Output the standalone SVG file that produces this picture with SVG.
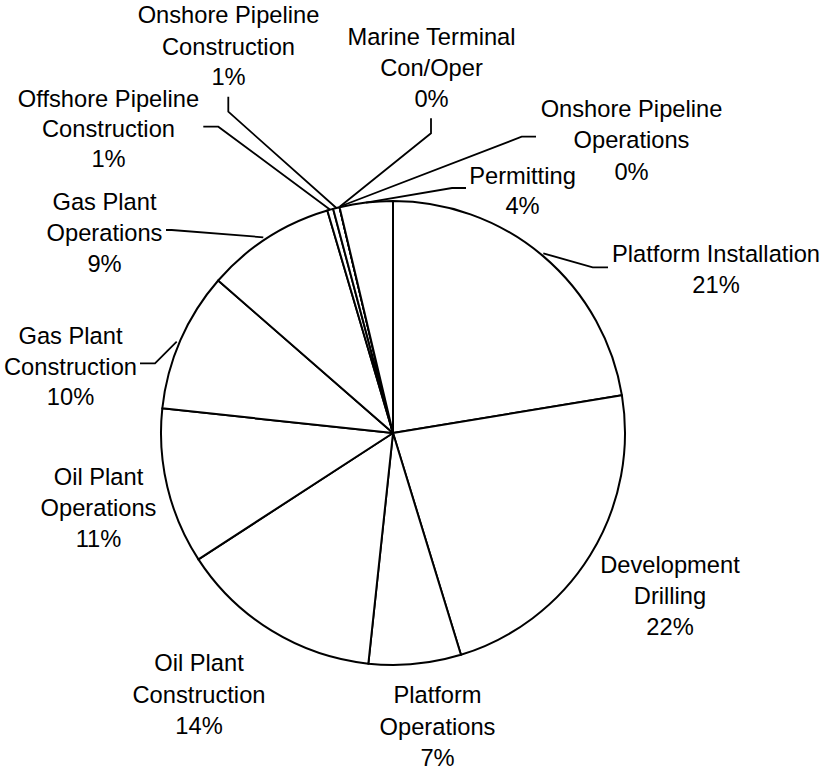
<svg xmlns="http://www.w3.org/2000/svg" width="824" height="773" viewBox="0 0 824 773">
<style>
.s{fill:#fff;stroke:#000;stroke-width:2;stroke-linejoin:round}
.l{fill:none;stroke:#000;stroke-width:1.8}
text{font-family:"Liberation Sans",Arial,sans-serif;font-size:23.7px;fill:#000;text-anchor:middle}
</style>
<rect width="824" height="773" fill="#fff"/>
<g id="platform-installation">
<path class="s" d="M393 433 L393 201 A232 232 0 0 1 621.93 395.34 Z"/>
<text x="716" y="262">Platform Installation</text>
<text x="716" y="293">21%</text>
</g>
<g id="development-drilling">
<path class="s" d="M393 433 L621.93 395.34 A232 232 0 0 1 460.94 654.83 Z"/>
<text x="670" y="573">Development</text>
<text x="670" y="604">Drilling</text>
<text x="670" y="635">22%</text>
</g>
<g id="platform-operations">
<path class="s" d="M393 433 L460.94 654.83 A232 232 0 0 1 368.35 663.69 Z"/>
<text x="437.5" y="703">Platform</text>
<text x="437.5" y="735">Operations</text>
<text x="437.5" y="766">7%</text>
</g>
<g id="oil-plant-construction">
<path class="s" d="M393 433 L368.35 663.69 A232 232 0 0 1 198.43 559.36 Z"/>
<text x="199" y="671">Oil Plant</text>
<text x="199" y="702.5">Construction</text>
<text x="199" y="733.5">14%</text>
</g>
<g id="oil-plant-operations">
<path class="s" d="M393 433 L198.43 559.36 A232 232 0 0 1 162.31 408.35 Z"/>
<text x="98.5" y="485">Oil Plant</text>
<text x="98.5" y="516">Operations</text>
<text x="98.5" y="547">11%</text>
</g>
<g id="gas-plant-construction">
<path class="s" d="M393 433 L162.31 408.35 A232 232 0 0 1 218.17 280.49 Z"/>
<text x="70.5" y="343.5">Gas Plant</text>
<text x="70.5" y="375">Construction</text>
<text x="70.5" y="405">10%</text>
</g>
<g id="gas-plant-operations">
<path class="s" d="M393 433 L218.17 280.49 A232 232 0 0 1 327.34 210.48 Z"/>
<text x="104.5" y="210">Gas Plant</text>
<text x="104.5" y="240.5">Operations</text>
<text x="104.5" y="271.5">9%</text>
</g>
<g id="offshore-pipeline-construction">
<path class="s" d="M393 433 L327.34 210.48 A232 232 0 0 1 333.11 208.86 Z"/>
<text x="108.5" y="106.5">Offshore Pipeline</text>
<text x="108.5" y="137">Construction</text>
<text x="108.5" y="167">1%</text>
</g>
<g id="onshore-pipeline-construction">
<path class="s" d="M393 433 L333.11 208.86 A232 232 0 0 1 339.59 207.23 Z"/>
<text x="228.5" y="23">Onshore Pipeline</text>
<text x="228.5" y="54.5">Construction</text>
<text x="228.5" y="85">1%</text>
</g>
<g id="marine-terminal">
<path class="s" d="M393 433 L339.59 207.23"/>
<text x="431.5" y="45">Marine Terminal</text>
<text x="431.5" y="75.5">Con/Oper</text>
<text x="431.5" y="107">0%</text>
</g>
<g id="onshore-pipeline-operations">
<path class="s" d="M393 433 L339.59 207.23"/>
<text x="631.5" y="117">Onshore Pipeline</text>
<text x="631.5" y="148">Operations</text>
<text x="631.5" y="180">0%</text>
</g>
<g id="permitting">
<path class="s" d="M393 433 L339.59 207.23 A232 232 0 0 1 393 201 Z"/>
<text x="522.5" y="183.5">Permitting</text>
<text x="522.5" y="213.5">4%</text>
</g>
<g id="connectors">
<path class="l" d="M608 267.3 H592.7 L543.3 253.3"/>
<path class="l" d="M466 188 H452 L366 202.6"/>
<path class="l" d="M536 136.7 H521.7 L340 206.5"/>
<path class="l" d="M431 118.3 V133.3 L340 206.5"/>
<path class="l" d="M228.3 96.7 V111.7 L336.4 208"/>
<path class="l" d="M203.3 126.7 H218.3 L330.2 209.7"/>
<path class="l" d="M166 230 H171.7 L263.3 237.3"/>
<path class="l" d="M140 363.3 H155 L176.7 341.7"/>
</g>
</svg>
